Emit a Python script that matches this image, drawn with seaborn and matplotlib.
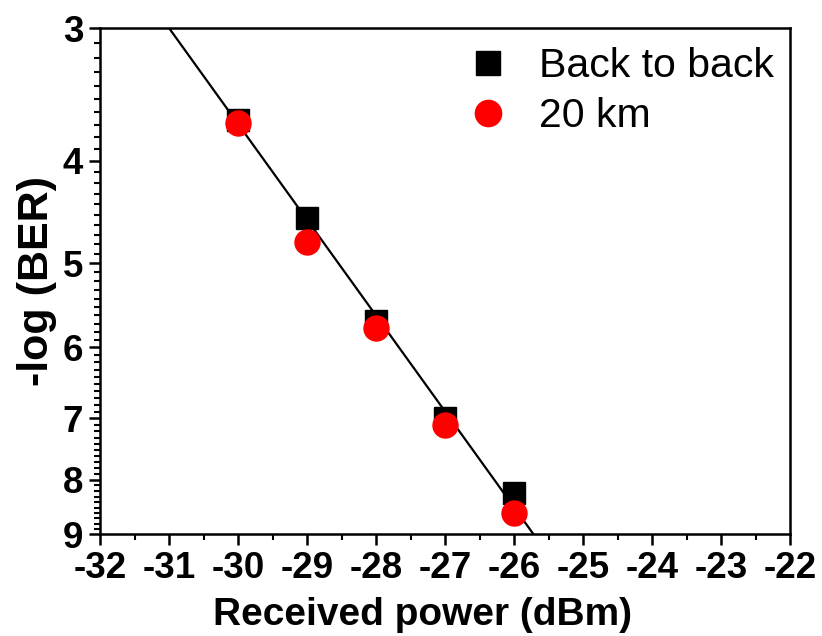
import numpy as np
import pandas as pd
import seaborn as sns
import matplotlib
matplotlib.use("Agg")
import matplotlib.pyplot as plt
from matplotlib.ticker import FixedLocator, FixedFormatter, MultipleLocator, NullFormatter

power = [-30, -29, -28, -27, -26]
b2b = [3.66, 4.53, 5.67, 7.00, 8.24]
km20 = [3.69, 4.77, 5.75, 7.10, 8.59]
fit_x = [-31.0, -25.72]
fit_y = [3.0, 9.0]
series_names = ["Back to back", "20 km"]
xticks = list(range(-32, -21))
yticks = [3, 4, 5, 6, 7, 8, 9]

sns.set_theme(style="white")
plt.rcParams['font.family'] = ['Liberation Sans', 'DejaVu Sans']
plt.rcParams['axes.unicode_minus'] = False
plt.rcParams['text.color'] = 'black'
plt.rcParams['axes.labelcolor'] = 'black'
plt.rcParams['xtick.color'] = 'black'
plt.rcParams['ytick.color'] = 'black'

df = pd.DataFrame({
    "power": power * 2,
    "ber": b2b + km20,
    "series": [series_names[0]] * len(power) + [series_names[1]] * len(power),
})

fig = plt.figure(figsize=(8.22, 6.36), dpi=100)
ax = fig.add_axes([100 / 822, 1 - 534 / 636, 690 / 822, 506 / 636])

ax.plot(fit_x, fit_y, color="black", lw=1.6, zorder=2)
sns.scatterplot(data=df, x="power", y="ber", hue="series", style="series",
                markers={series_names[0]: "s", series_names[1]: "o"},
                palette={series_names[0]: "black", series_names[1]: "#ff0000"},
                s=[0], ax=ax, legend=False)
for c in list(ax.collections):
    c.remove()
ax.plot(power, b2b, ls="none", marker="s", ms=16, color="black", mec="black",
        label=series_names[0], zorder=3)
ax.plot(power, km20, ls="none", marker="o", ms=18, color="#ff0000", mec="#ff0000",
        label=series_names[1], zorder=4)

ax.set_yscale("log")
ax.set_ylim(9, 3)
ax.set_xlim(-32, -22)
ax.yaxis.set_major_locator(FixedLocator(yticks))
ax.yaxis.set_major_formatter(FixedFormatter([str(t) for t in yticks]))
ax.yaxis.set_minor_locator(FixedLocator([round(v, 1) for v in np.arange(3.1, 9.0, 0.1)
                                          if abs(v - round(v)) > 1e-6]))
ax.yaxis.set_minor_formatter(NullFormatter())
ax.xaxis.set_major_locator(FixedLocator(xticks))
ax.xaxis.set_major_formatter(FixedFormatter([str(t) for t in xticks]))
ax.xaxis.set_minor_locator(MultipleLocator(0.5))

for s in ax.spines.values():
    s.set_linewidth(1.8)
    s.set_color("black")
ax.tick_params(axis="both", which="major", direction="out", length=8, width=1.8,
               labelsize=26.5, pad=4, colors="black", bottom=True, left=True)
ax.tick_params(axis="both", which="minor", direction="out", length=4.5, width=1.5,
               bottom=True, left=True)
for lab in ax.get_xticklabels() + ax.get_yticklabels():
    lab.set_fontweight("bold")

ax.set_xlabel("Received power (dBm)", fontsize=28, fontweight="bold")
ax.xaxis.set_label_coords(0.467, -0.125)
ax.set_ylabel("-log (BER)", fontsize=31, fontweight="bold", labelpad=4)

leg = ax.legend(loc="upper right", bbox_to_anchor=(1.006, 1.003), frameon=False,
                fontsize=29.5, handletextpad=0.75, borderaxespad=0.1,
                labelspacing=0.3, markerscale=1.05, handlelength=1.0)
for t in leg.get_texts():
    t.set_color("black")

fig.savefig("out.png", dpi=100)
